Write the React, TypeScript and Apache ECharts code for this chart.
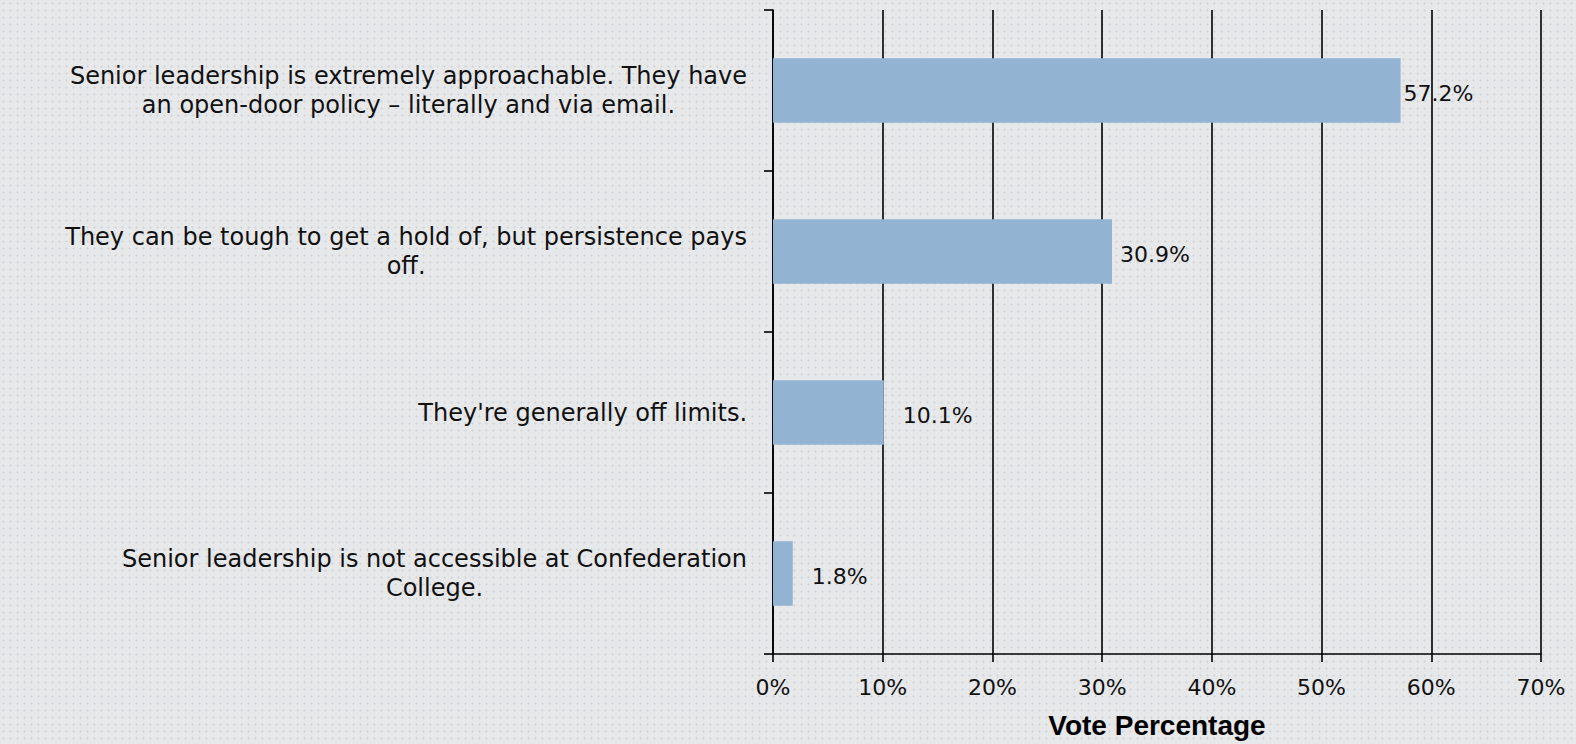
import React, { useEffect, useRef } from "react";
import * as echarts from "echarts";

const categories: string[] = [
  "Senior leadership is extremely approachable. They have\nan open-door policy – literally and via email.",
  "They can be tough to get a hold of, but persistence pays\noff.",
  "They're generally off limits.",
  "Senior leadership is not accessible at Confederation\nCollege.",
];
const votePercent: number[] = [57.2, 30.9, 10.1, 1.8];
const labelGaps: number[] = [3, 8, 19, 19];
const axisTitle = "Vote Percentage";

const FONT = "DejaVu Sans";

export default function App() {
  const ref = useRef<HTMLDivElement>(null);
  useEffect(() => {
    if (!ref.current) return;
    const chart = echarts.init(ref.current, undefined, { renderer: "svg" });
    chart.setOption({
      animation: false,
      backgroundColor: "transparent",
      grid: {
        left: 773,
        right: 35,
        top: 10,
        bottom: 90,
        containLabel: false,
        outerBoundsMode: "none",
      },
      xAxis: {
        type: "value",
        min: 0,
        max: 70,
        interval: 10,
        name: axisTitle,
        nameLocation: "middle",
        nameGap: 57,
        nameTextStyle: { fontFamily: "Liberation Sans", fontWeight: "bold", fontSize: 28, color: "#000" },
        axisLine: { show: true, lineStyle: { color: "#000", width: 1.6 } },
        axisTick: { show: true, length: 8, lineStyle: { color: "#000", width: 1.6 } },
        splitLine: { show: true, lineStyle: { color: "#000", width: 1.6 } },
        axisLabel: {
          formatter: "{value}%",
          margin: 22,
          fontFamily: FONT,
          fontSize: 22,
          color: "#111",
        },
      },
      yAxis: {
        type: "category",
        inverse: true,
        data: categories,
        axisLine: { show: true, lineStyle: { color: "#000", width: 1.6 } },
        axisTick: { show: true, length: 9, lineStyle: { color: "#000", width: 1.6 } },
        splitLine: { show: false },
        axisLabel: {
          margin: 26,
          align: "right",
          formatter: (v: string) => v.split("\n").map((l) => `{c|${l}}`).join("\n"),
          rich: {
            c: { align: "center", fontFamily: FONT, fontSize: 24, lineHeight: 29, color: "#111" },
          },
        },
      },
      series: [
        {
          type: "bar",
          data: votePercent.map((v, i) => ({ value: v, label: { distance: labelGaps[i] } })),
          barCategoryGap: "60%",
          itemStyle: { color: "#93B3D3" },
          label: {
            show: true,
            position: "right",
            offset: [0, 3],
            formatter: (p: any) => `${p.value.toFixed(1)}%`,
            fontFamily: FONT,
            fontSize: 22,
            color: "#111",
          },
        },
      ],
    });
    return () => chart.dispose();
  }, []);
  return (
    <div
      style={{
        position: "absolute",
        left: 0,
        top: 0,
        width: 1576,
        height: 744,
        backgroundColor: "#e7e8ea",
        backgroundImage: "radial-gradient(circle, #d3d5d9 0.9px, transparent 1.3px)",
        backgroundSize: "7px 7px",
      }}
    >
      <div ref={ref} style={{ width: 1576, height: 744 }} />
    </div>
  );
}
